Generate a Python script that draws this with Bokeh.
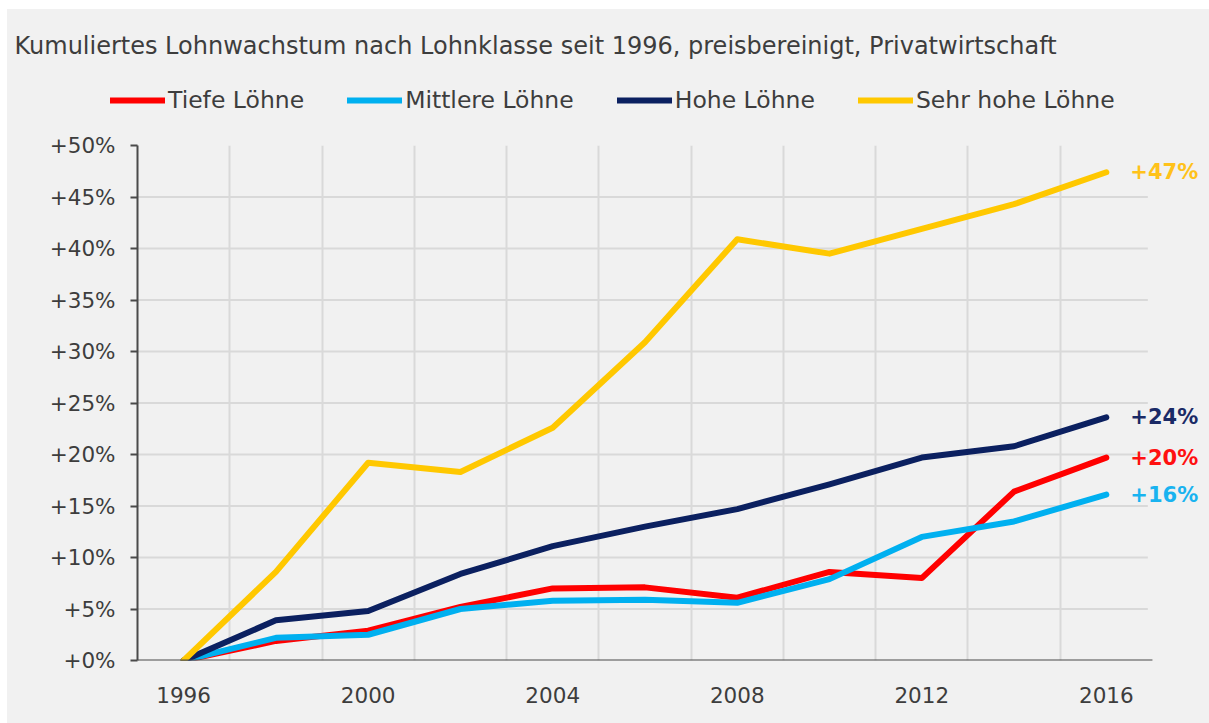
from bokeh.plotting import figure
from bokeh.layouts import column
from bokeh.models import (Range1d, FixedTicker, Legend, LegendItem, ColumnDataSource, Label)
from bokeh.core.properties import value
from bokeh.embed import file_html
from bokeh.resources import INLINE

years = [1996, 1998, 2000, 2002, 2004, 2006, 2008, 2010, 2012, 2014, 2016]
tiefe = [0, 1.9, 2.9, 5.2, 7.0, 7.1, 6.1, 8.6, 8.0, 16.4, 19.7]
mittlere = [0, 2.2, 2.5, 5.0, 5.8, 5.9, 5.6, 7.9, 12.0, 13.5, 16.1]
hohe = [0, 3.9, 4.8, 8.4, 11.1, 13.0, 14.7, 17.1, 19.7, 20.8, 23.6]
sehr_hohe = [0, 8.6, 19.2, 18.3, 22.6, 30.9, 40.9, 39.5, 41.9, 44.3, 47.4]

series_names = ["Tiefe Löhne", "Mittlere Löhne", "Hohe Löhne", "Sehr hohe Löhne"]
end_labels = ["+20%", "+16%", "+24%", "+47%"]

y_ticks = [0, 5, 10, 15, 20, 25, 30, 35, 40, 45, 50]
y_tick_labels = ["+0%", "+5%", "+10%", "+15%", "+20%", "+25%", "+30%", "+35%", "+40%", "+45%", "+50%"]
x_ticks = [1996, 2000, 2004, 2008, 2012, 2016]
x_tick_labels = ["1996", "2000", "2004", "2008", "2012", "2016"]
x_grid = [1997, 1999, 2001, 2003, 2005, 2007, 2009, 2011, 2013, 2015]
y_grid = [5, 10, 15, 20, 25, 30, 35, 40, 45]

title_text = "Kumuliertes Lohnwachstum nach Lohnklasse seit 1996, preisbereinigt, Privatwirtschaft"

colors = ["#ff0000", "#00b0f0", "#0b2060", "#ffc800"]
label_colors = ["#ff1010", "#19b3f0", "#1a2a66", "#ffc21a"]

X_START, X_END = 1995, 2017      # extent of the axis line and horizontal grid
X_VIEW_END = 2018.15             # extra room on the right for end labels

BG = "#f1f1f1"
FONT = "DejaVu Sans"
TXT = "#3d3d3d"
AXIS = "#4a4a4a"
GRID = "#d9d9d9"

W = 1202
HEAD_H = 121
data = [tiefe, mittlere, hohe, sehr_hohe]

# ---------------- header: title + legend ----------------
head = figure(width=W, height=HEAD_H, output_backend="svg", toolbar_location=None,
              x_range=Range1d(0, W), y_range=Range1d(0, HEAD_H),
              x_axis_location=None, y_axis_location=None, min_border=0)
head.frame_align = False
head.background_fill_color = BG
head.border_fill_color = BG
head.outline_line_color = None
head.xgrid.grid_line_color = None
head.ygrid.grid_line_color = None

head.add_layout(Label(x=7, y=85, text=title_text, text_font=FONT, text_font_size="24px",
                      text_color=TXT, text_baseline="middle", text_align="left"))

items = []
for name, vals, col in zip(series_names, data, colors):
    # legend proxies (hidden; the visible series are drawn in the chart below)
    r = head.line(years, vals, line_color=col, line_width=6, line_cap="round", visible=False)
    items.append(LegendItem(label=name, renderers=[r]))
legend = Legend(items=items, orientation="horizontal", location=(103, 16),
                padding=0, margin=0, spacing=43, glyph_width=55, glyph_height=24,
                label_standoff=3, label_text_font=FONT, label_text_font_size="23.5px",
                label_text_color=TXT, border_line_alpha=0, background_fill_alpha=0)
head.add_layout(legend)

# ---------------- main chart ----------------
p = figure(width=W, height=723 - 9 - HEAD_H, output_backend="svg", toolbar_location=None,
           x_range=Range1d(X_START, X_VIEW_END), y_range=Range1d(0, 50),
           min_border_left=130, min_border_right=4, min_border_top=15, min_border_bottom=63)
p.frame_align = False
p.background_fill_color = BG
p.border_fill_color = BG
p.outline_line_color = None

p.xgrid.ticker = FixedTicker(ticks=x_grid)
p.xgrid.grid_line_color = GRID
p.xgrid.grid_line_width = 2
p.ygrid.grid_line_color = None
p.segment(x0=[X_START] * len(y_grid), x1=[X_END - 0.1] * len(y_grid), y0=y_grid, y1=y_grid,
          line_color=GRID, line_width=2)

p.xaxis.ticker = FixedTicker(ticks=x_ticks)
p.xaxis.major_label_overrides = {t: l for t, l in zip(x_ticks, x_tick_labels)}
p.yaxis.ticker = FixedTicker(ticks=y_ticks)
p.yaxis.major_label_overrides = {t: l for t, l in zip(y_ticks, y_tick_labels)}
for ax in (p.xaxis[0], p.yaxis[0]):
    ax.axis_line_color = AXIS
    ax.axis_line_width = 2
    ax.major_tick_line_color = AXIS
    ax.major_tick_line_width = 2
    ax.minor_tick_line_color = None
    ax.major_label_text_font = FONT
    ax.major_label_text_font_size = "21.5px"
    ax.major_label_text_color = TXT
p.xaxis.axis_line_color = None
p.xaxis.major_tick_line_color = None
p.xaxis.major_label_standoff = 20
p.yaxis.major_tick_out = 7
p.yaxis.major_tick_in = 0
p.yaxis.major_label_standoff = 15

for vals, col, lab, lcol in zip(data, colors, end_labels, label_colors):
    p.line(years, vals, line_color=col, line_width=6, line_join="round", line_cap="round")
    src = ColumnDataSource(dict(x=[years[-1]], y=[vals[-1]], t=[lab]))
    p.text(x="x", y="y", text="t", source=src, x_offset=24, text_align="left",
           text_baseline="middle", text_font=value(FONT), text_font_size="21px",
           text_font_style="bold", text_color=lcol)

p.segment(x0=[X_START], x1=[X_END], y0=[0], y1=[0], line_color=AXIS, line_width=2)

layout = column(head, p, spacing=0)
layout.margin = (9, 0, 0, 7)
layout.styles = {"background-color": BG}
open("out.html", "w").write(file_html(layout, INLINE))
